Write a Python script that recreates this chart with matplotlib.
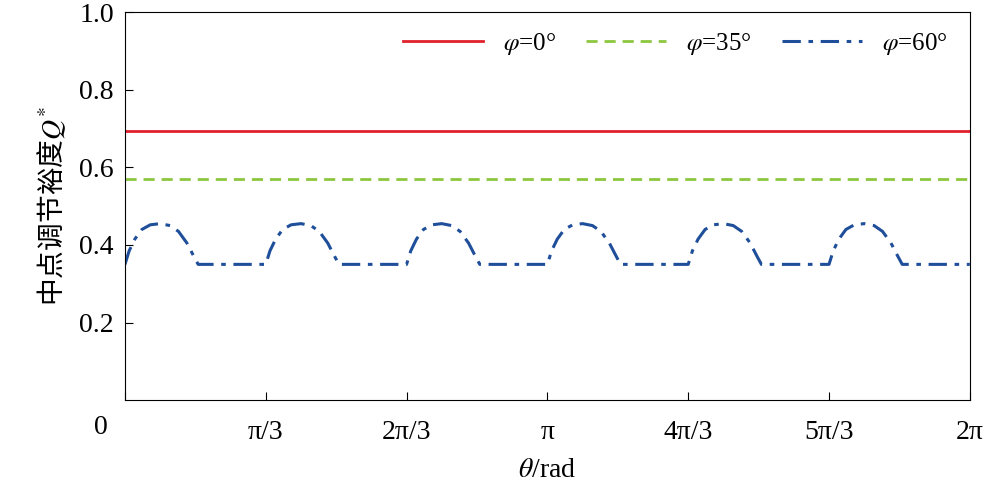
import numpy as np
import matplotlib.pyplot as plt

# hump profile of the phi=60 curve, offsets in units of one period (pi/3)
hump_off = [0, 0.03, 0.07, 0.12, 0.18, 0.25, 0.32, 0.38, 0.44, 0.49, 0.52]
hump_val = [0.35, 0.385, 0.415, 0.44, 0.452, 0.455, 0.45, 0.435, 0.405, 0.37, 0.35]
n_periods = 6
q_phi0 = 0.695
q_phi35 = 0.57
flat_val = 0.35
xtick_labels = ['0', 'π/3', '2π/3', 'π', '4π/3', '5π/3', '2π']

period = np.pi / 3
xs, ys = [], []
for k in range(n_periods):
    for o, v in zip(hump_off, hump_val):
        xs.append((k + o) * period)
        ys.append(v)
xs.append(2 * np.pi)
ys.append(flat_val)

plt.rcParams['font.family'] = 'Liberation Serif'
plt.rcParams['mathtext.fontset'] = 'stix'

fig = plt.figure(figsize=(9.87, 4.88), dpi=100)
ax = fig.add_axes([0.1266, 0.18, 0.856, 0.795])

ax.plot([0, 2 * np.pi], [q_phi0] * 2, color='#e0202a', lw=2, label=r'$\varphi$=0°')
ax.plot([0, 2 * np.pi], [q_phi35] * 2, color='#8cc63e', lw=2, ls=(0, (4, 2.5)), label=r'$\varphi$=35°')
ax.plot(xs, ys, color='#1f4e9a', lw=2.2, ls=(0, (6, 2.5, 1.5, 2.5)), label=r'$\varphi$=60°')

ax.set_xlim(0, 2 * np.pi)
ax.set_ylim(0, 1.0)
ax.set_xticks([i * period for i in range(7)])
ax.set_yticks([0.2, 0.4, 0.6, 0.8, 1.0])
ax.set_yticklabels(['0.2', '0.4', '0.6', '0.8', '1.0'])
ax.tick_params(direction='in', labelsize=20, length=6, pad=14)
ax.tick_params(axis='y', pad=8)
ax.text(-0.02, -0.07, '0', transform=ax.transAxes, fontsize=20, ha='right', va='center')
ax.set_xticklabels([''] + xtick_labels[1:])
ax.set_xlabel(r'$\theta$/rad', fontsize=20, labelpad=10)
ax.set_ylabel('中点调节裕度$Q^{*}$', fontsize=20, fontfamily='Noto Sans CJK SC', labelpad=8)
ax.legend(loc='upper right', ncol=3, frameon=False, fontsize=18,
          handlelength=3.2, columnspacing=1.2, bbox_to_anchor=(1.0, 1.01))

fig.savefig('out.png', dpi=100)
